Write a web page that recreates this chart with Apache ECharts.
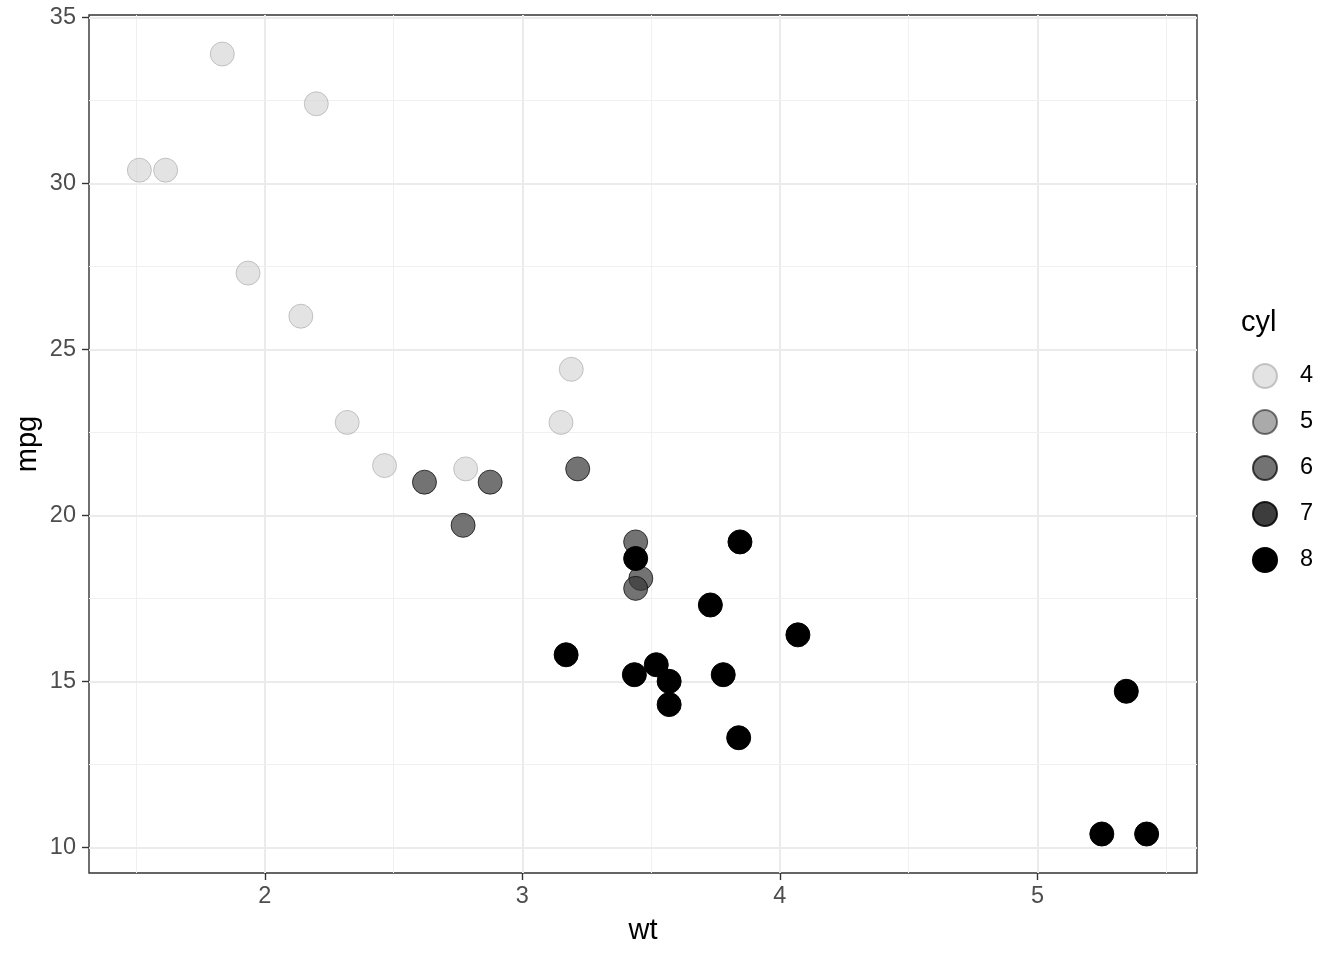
<!DOCTYPE html>
<html>
<head>
<meta charset="utf-8">
<script src="https://cdn.jsdelivr.net/npm/echarts@6/dist/echarts.min.js"></script>
<style>
  html, body { margin: 0; padding: 0; background: #fff; }
  #chart { width: 1344px; height: 960px; }
</style>
</head>
<body>
<div id="chart"></div>
<script>
// mtcars: weight, mileage, cylinders
var wt = [2.620, 2.875, 2.320, 3.215, 3.440, 3.460, 3.570, 3.190, 3.150, 3.440, 3.440,
    4.070, 3.730, 3.780, 5.250, 5.424, 5.345, 2.200, 1.615, 1.835, 2.465, 3.520,
    3.435, 3.840, 3.845, 1.935, 2.140, 1.513, 3.170, 2.770, 3.570, 2.780];
var mpg = [21.0, 21.0, 22.8, 21.4, 18.7, 18.1, 14.3, 24.4, 22.8, 19.2, 17.8,
    16.4, 17.3, 15.2, 10.4, 10.4, 14.7, 32.4, 30.4, 33.9, 21.5, 15.5,
    15.2, 13.3, 19.2, 27.3, 26.0, 30.4, 15.8, 19.7, 15.0, 21.4];
var cyl = [6, 6, 4, 6, 8, 6, 8, 4, 4, 6, 6,
    8, 8, 8, 8, 8, 8, 4, 4, 4, 4, 8,
    8, 8, 8, 4, 4, 4, 8, 6, 8, 4];

var cylLevels = [4, 5, 6, 7, 8];
var xTicks = [2, 3, 4, 5];
var xMinor = [1.5, 2.5, 3.5, 4.5, 5.5];
var yTicks = [10, 15, 20, 25, 30, 35];
var yMinor = [12.5, 17.5, 22.5, 27.5, 32.5];

// fill / outline per cyl level (grey gradient with alpha)
var fills = {
    4: 'rgba(200,200,200,0.5)',
    5: 'rgba(113,113,113,0.6)',
    6: 'rgba(55,55,55,0.7)',
    7: 'rgba(27,27,27,0.85)',
    8: 'rgba(0,0,0,1)'
};
var strokes = {
    4: 'rgba(150,150,150,0.5)',
    5: 'rgba(0,0,0,0.5)',
    6: 'rgba(0,0,0,0.7)',
    7: 'rgba(0,0,0,0.85)',
    8: 'rgba(0,0,0,1)'
};

var font = 'Liberation Sans, Arial, sans-serif';
var chart = echarts.init(document.getElementById('chart'));

// 网格线（主、次）
var gridLines = [];
xTicks.forEach(function(v) { gridLines.push({ xAxis: v, lineStyle: { color: '#ebebeb', width: 2, type: 'solid' } }); });
xMinor.forEach(function(v) { gridLines.push({ xAxis: v, lineStyle: { color: '#f0f0f0', width: 1, type: 'solid' } }); });
yTicks.forEach(function(v) { gridLines.push({ yAxis: v, lineStyle: { color: '#ebebeb', width: 2, type: 'solid' } }); });
yMinor.forEach(function(v) { gridLines.push({ yAxis: v, lineStyle: { color: '#f0f0f0', width: 1, type: 'solid' } }); });

var series = [{
    name: 'grid',
    type: 'line',
    data: [],
    z: 0,
    silent: true,
    markLine: {
        silent: true,
        symbol: ['none', 'none'],
        label: { show: false },
        animation: false,
        data: gridLines
    }
}];

cylLevels.forEach(function(c) {
    var pts = [];
    for (var i = 0; i < wt.length; i++) {
        if (cyl[i] === c) pts.push([wt[i], mpg[i]]);
    }
    series.push({
        name: String(c),
        type: 'scatter',
        data: pts,
        symbol: 'circle',
        symbolSize: 24,
        z: 2 + c,
        itemStyle: { color: fills[c], borderColor: strokes[c], borderWidth: 1, opacity: 1 }
    });
});

var option = {
    animation: false,
    backgroundColor: '#fff',
    title: {
        text: 'cyl',
        left: 1236,
        top: 303,
        textStyle: { fontFamily: font, fontSize: 29, fontWeight: 'normal', color: '#000' }
    },
    legend: {
        data: ['4', '5', '6', '7', '8'],
        orient: 'vertical',
        left: 1247,
        top: 358,
        itemWidth: 24,
        itemHeight: 24,
        itemGap: 20,
        icon: 'circle',
        selectedMode: false,
        textStyle: { fontFamily: font, fontSize: 23.5, color: '#000', padding: [0, 0, 0, 18] }
    },
    grid: {
        left: 89,
        top: 15,
        width: 1108,
        height: 858,
        z: 1,
        show: true,
        borderColor: '#333',
        borderWidth: 1.4,
        backgroundColor: 'transparent'
    },
    xAxis: {
        type: 'value',
        min: 1.31745,
        max: 5.61955,
        name: 'wt',
        nameLocation: 'middle',
        nameGap: 43,
        nameTextStyle: { fontFamily: font, fontSize: 29, color: '#000' },
        axisLine: { show: false },
        axisTick: { show: true, length: 7, lineStyle: { color: '#333', width: 1.4 }, customValues: xTicks },
        axisLabel: { fontFamily: font, fontSize: 23.5, color: '#4d4d4d', margin: 12, customValues: xTicks },
        splitLine: { show: false }
    },
    yAxis: {
        type: 'value',
        min: 9.225,
        max: 35.075,
        name: 'mpg',
        nameLocation: 'middle',
        nameGap: 47,
        nameMoveOverlap: false,
        nameRotate: 90,
        nameTextStyle: { fontFamily: font, fontSize: 29, color: '#000' },
        axisLine: { show: false },
        axisTick: { show: true, length: 7, lineStyle: { color: '#333', width: 1.4 }, customValues: yTicks },
        axisLabel: { fontFamily: font, fontSize: 23.5, color: '#4d4d4d', margin: 13, customValues: yTicks },
        splitLine: { show: false }
    },
    series: series
};

chart.setOption(option);
</script>
</body>
</html>
